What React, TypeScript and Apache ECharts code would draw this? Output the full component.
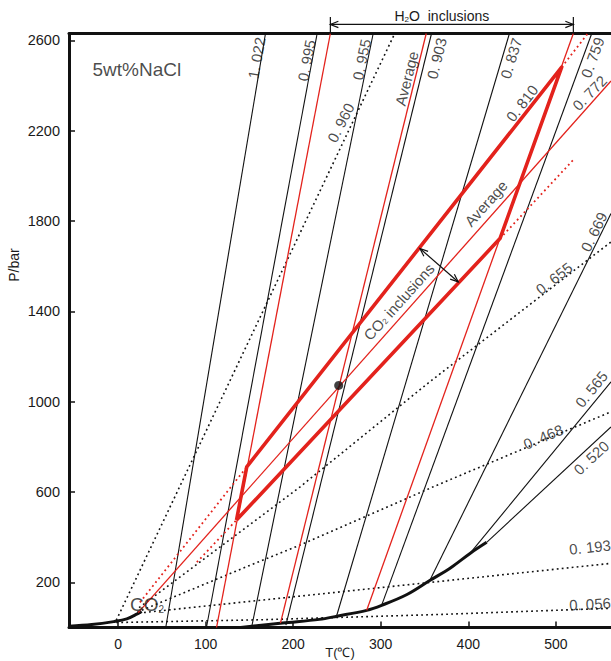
import React, { useEffect, useRef } from 'react';
import * as echarts from 'echarts';

const FONT = 'Arial, "Liberation Sans", Helvetica, sans-serif';
const RED = '#e3221c';
const INK = '#111';
const TXT = '#1a1a1a';

// axis ticks
const xTicks = [0, 100, 200, 300, 400, 500];
const yTicks = [200, 600, 1000, 1400, 1800, 2200, 2600];

// liquid–vapour curves [T °C, P bar]
const co2Boundary = [[-56, 6], [-30, 13], [-5, 26], [10, 38], [22, 60], [27, 71]];
const h2oBoundary = [[140, 0], [188, 20], [230, 36], [250, 50], [284, 76], [301, 98], [330, 146], [356, 208], [380, 265], [402, 328], [421, 377]];

// H2O isochores (5 wt% NaCl), black
const h2oIsoNames = ['1.022', '0.995', '0.955', '0.903', '0.837', '0.759', '0.669', '0.565', '0.520'];
const h2oIsochores = [
  [[54.5, 0], [168.4, 2630]],
  [[101, 0], [227.4, 2630]],
  [[152.5, 0], [291.4, 2630]],
  [[191.7, 11], [358, 2630]],
  [[249.6, 51], [447, 2630]],
  [[301, 98], [541, 2630]],
  [[356, 208], [563, 1833]],
  [[402, 328], [563, 1088]],
  [[421, 377], [563, 888]],
];

// H2O inclusion isochores (red)
const h2oInclLow = [[112.5, 0], [242.5, 2630]];
const h2oInclAvg = [[185.5, 19], [352, 2630]];
const h2oInclHigh = [[284, 76], [520, 2630]];

// CO2 isochores, dotted black
const co2IsoNames = ['0.960', '0.655', '0.468', '0.193', '0.056'];
const co2Isochores = [
  [[-2, 32], [316, 2630]],
  [[24, 88], [162.5, 490], [208, 623], [356, 1088], [563, 1707]],
  [[22, 68], [150.5, 275], [208, 365], [360, 623], [563, 955]],
  [[24, 64], [563, 284]],
  [[-2, 22], [160, 34], [370, 58], [563, 85]],
];

// CO2 inclusions
const co2Envelope = [[135.3, 476], [147, 711], [506.7, 2481], [436.2, 1722], [135.3, 476]];
const co2UpperExt = [[[25, 111], [147, 711]], [[506.7, 2481], [536.5, 2630]]];
const co2LowerExt = [[[90, 289], [135.3, 476]], [[436.2, 1722], [519.6, 2069]]];
const co2InclAvg = [[23, 66], [563, 2420]];
const fluidPoint = [[252, 1072]];

// annotation anchors
const h2oRange = [242.5, 520];
const h2oRangeP = 2670;
const spreadArrow = [[344.8, 1678], [388.6, 1530]];

const labels = [
  { text: '1. 022', at: [158.2, 2522], rot: 80 },
  { text: '0. 995', at: [215.3, 2511], rot: 79 },
  { text: '0. 955', at: [278.2, 2515], rot: 78 },
  { text: '0. 960', at: [254.3, 2235], rot: 63 },
  { text: '0. 903', at: [363.9, 2520], rot: 76 },
  { text: '0. 837', at: [448.8, 2520], rot: 73 },
  { text: '0. 759', at: [541.9, 2524], rot: 70 },
  { text: '0. 772', at: [538.5, 2367], rot: 46 },
  { text: '0. 810', at: [461.4, 2321], rot: 52 },
  { text: 'Average', at: [420.2, 1878], rot: 48 },
  { text: 'Average', at: [329.6, 2431], rot: 76 },
  { text: '{m|CO}{s|2}{m| inclusions}', at: [320.8, 1442], rot: 48 },
  { text: '0. 669', at: [543.5, 1752], rot: 64 },
  { text: '0. 655', at: [498, 1546], rot: 38 },
  { text: '0. 565', at: [540.5, 1055], rot: 51 },
  { text: '0. 468', at: [485.7, 844], rot: 23 },
  { text: '0. 520', at: [540.5, 752], rot: 43 },
  { text: '0. 193', at: [539, 356], rot: 6 },
  { text: '0. 056', at: [539, 104], rot: 3 },
];
const bigLabels = [
  { text: '5wt%NaCl', at: [21.5, 2469] },
  { text: '{b|CO}{bs|2}', at: [33, 104] },
];

function lineSeries(data: number[][], color: string, width: number, type: any = 'solid', z = 2, smooth: any = false) {
  return {
    type: 'line', data, showSymbol: false, symbol: 'none', silent: true, z, smooth,
    lineStyle: { color, width, type, cap: 'butt', join: 'round' },
    animation: false,
  };
}

export default function App() {
  const ref = useRef<HTMLDivElement>(null);
  useEffect(() => {
    const chart = echarts.init(ref.current!, null, { renderer: 'svg' });
    const dotted = [1.8, 3.2];
    const series: any[] = [];
    h2oIsochores.forEach((d, i) => series.push({ ...lineSeries(d, INK, 1.1), name: h2oIsoNames[i] }));
    co2Isochores.forEach((d, i) => series.push({ ...lineSeries(d, INK, 1.6, dotted), name: co2IsoNames[i] }));
    series.push(lineSeries(co2Boundary, INK, 3, 'solid', 3, 0.35));
    series.push(lineSeries(h2oBoundary, INK, 3, 'solid', 3, 0.35));
    series.push(lineSeries(h2oInclLow, RED, 1.3, 'solid', 4));
    series.push(lineSeries(h2oInclAvg, RED, 1.3, 'solid', 4));
    series.push(lineSeries(h2oInclHigh, RED, 1.3, 'solid', 4));
    series.push(lineSeries(co2InclAvg, RED, 1.3, 'solid', 4));
    co2UpperExt.forEach((d) => series.push(lineSeries(d, RED, 1.8, dotted, 4)));
    co2LowerExt.forEach((d) => series.push(lineSeries(d, RED, 1.8, dotted, 4)));
    series.push(lineSeries(co2Envelope, RED, 3.6, 'solid', 5));
    series.push({
      type: 'scatter', data: fluidPoint, symbolSize: 9, silent: true, z: 6,
      itemStyle: { color: INK },
    });
    series.push({
      type: 'scatter', silent: true, z: 7, symbolSize: 1, clip: false,
      itemStyle: { color: 'transparent' },
      data: labels.map((l) => ({ value: l.at, label: { formatter: l.text, rotate: l.rot } })),
      label: {
        show: true, position: 'inside', fontSize: 15, color: TXT, fontFamily: FONT,
        rich: {
          m: { fontSize: 15, color: TXT, fontFamily: FONT },
          s: { fontSize: 8, color: TXT, fontFamily: FONT, padding: [6, 0, 0, 0] },
        },
      },
    });
    series.push({
      type: 'scatter', silent: true, z: 7, symbolSize: 1, clip: false,
      itemStyle: { color: 'transparent' },
      data: bigLabels.map((l) => ({ value: l.at, label: { formatter: l.text } })),
      label: {
        show: true, position: 'inside', fontSize: 19, color: TXT, fontFamily: FONT,
        rich: {
          b: { fontSize: 19, color: TXT, fontFamily: FONT },
          bs: { fontSize: 10, color: TXT, fontFamily: FONT, padding: [10, 0, 0, 0] },
        },
      },
    });

    const option: any = {
      animation: false,
      backgroundColor: '#fff',
      grid: { left: 69, right: 0, top: 33.5, bottom: 33.5, containLabel: false },
      xAxis: [
        {
          type: 'value', min: -56, max: 563, position: 'bottom',
          axisLine: { show: true, onZero: false, lineStyle: { color: INK, width: 3 } },
          axisTick: { show: true, inside: true, length: 6, customValues: xTicks, lineStyle: { color: INK, width: 1.5 } },
          axisLabel: { show: true, customValues: xTicks, fontSize: 14, color: TXT, fontFamily: FONT, margin: 9, formatter: (v: number) => String(v) },
          splitLine: { show: false },
        },
        {
          type: 'value', min: -56, max: 563, position: 'top',
          axisLine: { show: true, onZero: false, lineStyle: { color: INK, width: 3 } },
          axisTick: { show: false }, axisLabel: { show: false }, splitLine: { show: false },
        },
      ],
      yAxis: {
        type: 'value', min: 0, max: 2630,
        axisLine: { show: true, onZero: false, lineStyle: { color: INK, width: 3 } },
        axisTick: { show: true, inside: true, length: 6, customValues: yTicks, lineStyle: { color: INK, width: 1.5 } },
        axisLabel: { show: true, customValues: yTicks, fontSize: 14.5, color: TXT, fontFamily: FONT, margin: 9, formatter: (v: number) => String(v) },
        splitLine: { show: false },
      },
      series,
    };
    chart.setOption(option);

    const toPx = (p: number[]) => chart.convertToPixel({ xAxisIndex: 0, yAxisIndex: 0 }, p) as number[];
    const head = (tip: number[], from: number[], len = 8, half = 3.2) => {
      const dx = tip[0] - from[0], dy = tip[1] - from[1];
      const L = Math.hypot(dx, dy); const ux = dx / L, uy = dy / L;
      const bx = tip[0] - ux * len, by = tip[1] - uy * len;
      return [[bx - uy * half, by + ux * half], tip, [bx + uy * half, by - ux * half]];
    };
    const lineStyle = { stroke: INK, lineWidth: 1.2, fill: null };
    const a = toPx([h2oRange[0], h2oRangeP]);
    const b = toPx([h2oRange[1], h2oRangeP]);
    const aTop = toPx([h2oRange[0], 2703]);
    const aBot = toPx([h2oRange[0], 2630]);
    const bTop = toPx([h2oRange[1], 2703]);
    const bBot = toPx([h2oRange[1], 2630]);
    const s0 = toPx(spreadArrow[0]);
    const s1 = toPx(spreadArrow[1]);
    const graphic: any[] = [
      { type: 'line', shape: { x1: a[0], y1: a[1], x2: b[0], y2: b[1] }, style: lineStyle, z: 20 },
      { type: 'polyline', shape: { points: head(a, b) }, style: lineStyle, z: 20 },
      { type: 'polyline', shape: { points: head(b, a) }, style: lineStyle, z: 20 },
      { type: 'line', shape: { x1: aTop[0], y1: aTop[1], x2: aBot[0], y2: aBot[1] }, style: lineStyle, z: 20 },
      { type: 'line', shape: { x1: bTop[0], y1: bTop[1], x2: bBot[0], y2: bBot[1] }, style: lineStyle, z: 20 },
      {
        type: 'text', x: (a[0] + b[0]) / 2 - 10, y: a[1] - 8, z: 20,
        style: {
          text: '{m|H}{s|2}{m|O  inclusions}', align: 'center', verticalAlign: 'middle',
          rich: {
            m: { fontSize: 14, fill: TXT, fontFamily: FONT },
            s: { fontSize: 8, fill: TXT, fontFamily: FONT, padding: [6, 0, 0, 0] },
          },
        },
      },
      { type: 'line', shape: { x1: s0[0], y1: s0[1], x2: s1[0], y2: s1[1] }, style: lineStyle, z: 20 },
      { type: 'polyline', shape: { points: head(s0, s1) }, style: lineStyle, z: 20 },
      { type: 'polyline', shape: { points: head(s1, s0) }, style: lineStyle, z: 20 },
      {
        type: 'text', x: 14, y: 265, rotation: Math.PI / 2, z: 20,
        style: { text: 'P/bar', fontSize: 14, fill: TXT, fontFamily: FONT, align: 'center', verticalAlign: 'middle' },
      },
      {
        type: 'text', x: 340, y: 652, z: 20,
        style: { text: 'T(℃)', fontSize: 13, fill: TXT, fontFamily: FONT, align: 'center', verticalAlign: 'middle' },
      },
    ];
    chart.setOption({ graphic });
    return () => chart.dispose();
  }, []);
  return <div ref={ref} style={{ position: 'fixed', left: 0, top: 0, width: 611, height: 661, background: '#fff' }} />;
}
